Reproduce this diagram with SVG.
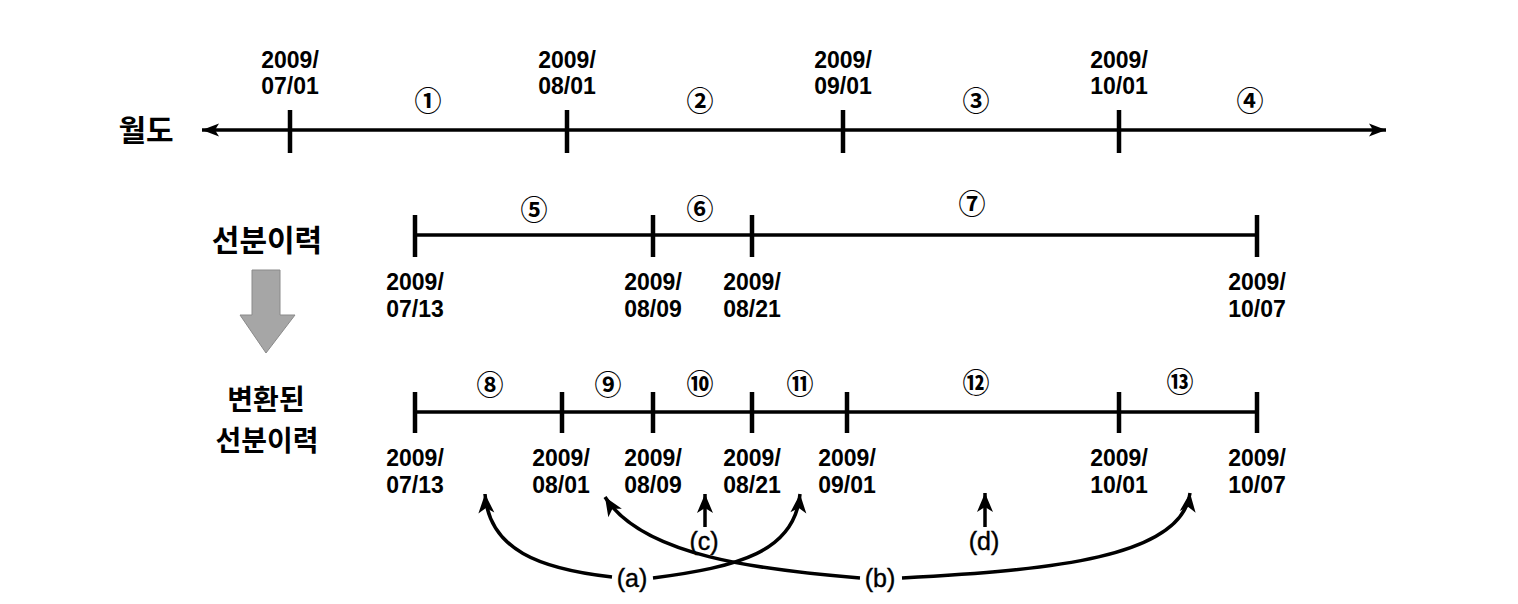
<svg xmlns="http://www.w3.org/2000/svg" width="1518" height="604" viewBox="0 0 1518 604">
<style>
.ax{stroke:#000;stroke-width:3.5;fill:none}
.tk{stroke:#000;stroke-width:4.5}
.dt{font-family:"Liberation Sans",Arial,sans-serif;font-weight:bold;font-size:23px;text-anchor:middle;fill:#000}
.cn{font-family:"Noto Sans CJK KR","DejaVu Sans",sans-serif;font-weight:bold;font-size:27px;text-anchor:middle;fill:#000}
.kr{font-family:"Noto Sans CJK KR",sans-serif;font-weight:bold;font-size:30px;text-anchor:middle;fill:#000}
.lb{font-family:"Liberation Sans",Arial,sans-serif;font-size:25px;text-anchor:middle;fill:#000;stroke:#000;stroke-width:0.4}
.cv{stroke:#000;stroke-width:3.5;fill:none;marker-end:url(#ah)}
</style>
<defs>
<marker id="ah" markerUnits="userSpaceOnUse" markerWidth="24" markerHeight="20" viewBox="-20 -10 22 20" refX="0" refY="0" orient="auto">
<path d="M0,0 L-19,-8 L-14,0 L-19,8 Z" fill="#000"/>
</marker>
<marker id="axh" markerUnits="userSpaceOnUse" markerWidth="24" markerHeight="20" viewBox="-20 -10 22 20" refX="0" refY="0" orient="auto-start-reverse">
<path d="M0,0 L-17,-6.5 L-13,0 L-17,6.5 Z" fill="#000"/>
</marker>
</defs>
<rect width="1518" height="604" fill="#fff"/>

<g id="row-month">
<text class="kr" x="146" y="141">월도</text>
<line class="ax" x1="202" y1="130" x2="1386" y2="130" marker-start="url(#axh)" marker-end="url(#axh)"/>
<line class="tk" x1="290" y1="110" x2="290" y2="153"/>
<line class="tk" x1="567" y1="110" x2="567" y2="153"/>
<line class="tk" x1="843" y1="110" x2="843" y2="153"/>
<line class="tk" x1="1119" y1="110" x2="1119" y2="153"/>
<text class="dt" x="290" y="68">2009/</text><text class="dt" x="290" y="94">07/01</text>
<text class="dt" x="567" y="68">2009/</text><text class="dt" x="567" y="94">08/01</text>
<text class="dt" x="843" y="68">2009/</text><text class="dt" x="843" y="94">09/01</text>
<text class="dt" x="1119" y="68">2009/</text><text class="dt" x="1119" y="94">10/01</text>
<text class="cn" x="428" y="111">①</text>
<text class="cn" x="700" y="111">②</text>
<text class="cn" x="976" y="111">③</text>
<text class="cn" x="1250" y="111">④</text>
</g>

<g id="row-history">
<text class="kr" x="267" y="251">선분이력</text>
<line class="ax" x1="415" y1="235" x2="1257" y2="235"/>
<line class="tk" x1="415" y1="215" x2="415" y2="257"/>
<line class="tk" x1="653" y1="215" x2="653" y2="257"/>
<line class="tk" x1="752" y1="215" x2="752" y2="257"/>
<line class="tk" x1="1257" y1="215" x2="1257" y2="257"/>
<text class="dt" x="415" y="290">2009/</text><text class="dt" x="415" y="317">07/13</text>
<text class="dt" x="653" y="290">2009/</text><text class="dt" x="653" y="317">08/09</text>
<text class="dt" x="752" y="290">2009/</text><text class="dt" x="752" y="317">08/21</text>
<text class="dt" x="1257" y="290">2009/</text><text class="dt" x="1257" y="317">10/07</text>
<text class="cn" x="534" y="220">⑤</text>
<text class="cn" x="700" y="219">⑥</text>
<text class="cn" x="972" y="214">⑦</text>
</g>

<g id="transform-arrow">
<polygon points="252,270 280,270 280,315 295,315 266,353 240,315 252,315" fill="#a6a6a6" stroke="#8a8a8a" stroke-width="1"/>
</g>

<g id="row-converted">
<text class="kr" x="266" y="410" style="font-size:28px">변환된</text>
<text class="kr" x="267" y="451" style="font-size:28px">선분이력</text>
<line class="ax" x1="415" y1="412" x2="1257" y2="412"/>
<line class="tk" x1="415" y1="392" x2="415" y2="433"/>
<line class="tk" x1="562" y1="392" x2="562" y2="433"/>
<line class="tk" x1="653" y1="392" x2="653" y2="433"/>
<line class="tk" x1="752" y1="392" x2="752" y2="433"/>
<line class="tk" x1="847" y1="392" x2="847" y2="433"/>
<line class="tk" x1="1119" y1="392" x2="1119" y2="433"/>
<line class="tk" x1="1257" y1="392" x2="1257" y2="433"/>
<text class="dt" x="415" y="466">2009/</text><text class="dt" x="415" y="493">07/13</text>
<text class="dt" x="561" y="466">2009/</text><text class="dt" x="561" y="493">08/01</text>
<text class="dt" x="653" y="466">2009/</text><text class="dt" x="653" y="493">08/09</text>
<text class="dt" x="752" y="466">2009/</text><text class="dt" x="752" y="493">08/21</text>
<text class="dt" x="847" y="466">2009/</text><text class="dt" x="847" y="493">09/01</text>
<text class="dt" x="1119" y="466">2009/</text><text class="dt" x="1119" y="493">10/01</text>
<text class="dt" x="1257" y="466">2009/</text><text class="dt" x="1257" y="493">10/07</text>
<text class="cn" x="490" y="395">⑧</text>
<text class="cn" x="608" y="395">⑨</text>
<text class="cn" x="700" y="394">⑩</text>
<text class="cn" x="800" y="394">⑪</text>
<text class="cn" x="976" y="393">⑫</text>
<text class="cn" x="1180" y="392">⑬</text>
</g>

<g id="connectors">
<path class="cv" d="M612,577 C540,569 489,550 485,494"/>
<path class="cv" d="M653,578 C738,567 795,552 800,494"/>
<path class="cv" d="M860,578 C760,570 642,556 605,497"/>
<path class="cv" d="M902,578 C1050,570 1182,558 1190,493"/>
<path class="cv" d="M705,527 L705,494"/>
<path class="cv" d="M985,527 L985,493"/>
</g>

<g id="labels">
<text class="lb" x="632" y="587">(a)</text>
<text class="lb" x="880" y="587">(b)</text>
<text class="lb" x="704" y="550">(c)</text>
<text class="lb" x="984" y="550">(d)</text>
</g>
</svg>
